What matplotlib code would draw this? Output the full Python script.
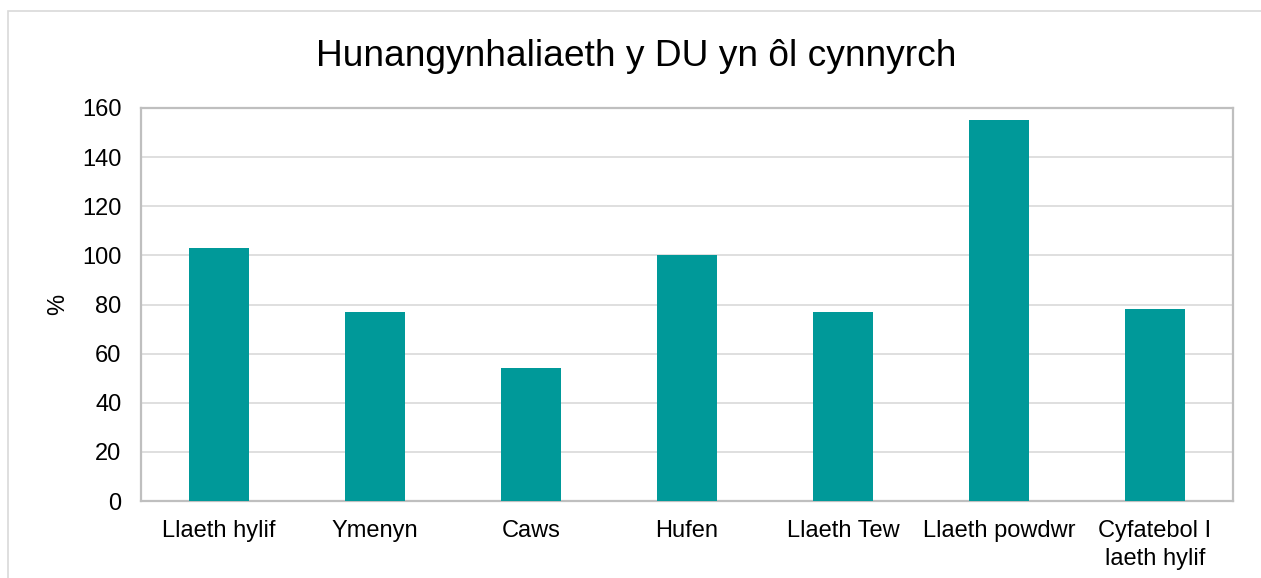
import matplotlib
matplotlib.use("Agg")
import matplotlib.pyplot as plt
from matplotlib.patches import Rectangle

categories = ["Llaeth hylif", "Ymenyn", "Caws", "Hufen", "Llaeth Tew", "Llaeth powdwr", "Cyfatebol I\nlaeth hylif"]
values = [103, 77, 54, 100, 77, 155, 78]
yticks = [0, 20, 40, 60, 80, 100, 120, 140, 160]

plt.rcParams['font.family'] = ['Liberation Sans', 'DejaVu Sans']

W, H = 1261, 578
fig = plt.figure(figsize=(W / 100, H / 100), dpi=100)
fig.patch.set_facecolor('white')

# outer chart border
fig.patches.append(Rectangle((8 / W, -0.1), 1.2, 1 - 11 / H + 0.1, transform=fig.transFigure,
                             fill=False, edgecolor='#d9d9d9', linewidth=1.2))

ax = fig.add_axes([141 / W, 77 / H, (1233 - 141) / W, (501 - 108) / H])
x = list(range(len(categories)))
ax.bar(x, values, width=0.38, color='#009999', zorder=3)
ax.set_xlim(-0.5, len(categories) - 0.5)
ax.set_ylim(0, 160)
ax.set_yticks(yticks)
ax.set_xticks(x)
ax.set_xticklabels(categories, fontsize=17, linespacing=1.35)
ax.tick_params(axis='y', length=0, pad=14, labelsize=17)
ax.tick_params(axis='x', length=0, pad=14)
ax.yaxis.grid(True, color='#d9d9d9', linewidth=1.2, zorder=0)
for s in ax.spines.values():
    s.set_color('#bfbfbf')
    s.set_linewidth(1.6)
ax.set_ylabel('%', fontsize=17, labelpad=9)

fig.text(636 / W, 1 - 57 / H, 'Hunangynhaliaeth y DU yn ôl cynnyrch', ha='center', va='center', fontsize=26.7)

fig.savefig('out.png', dpi=100)
